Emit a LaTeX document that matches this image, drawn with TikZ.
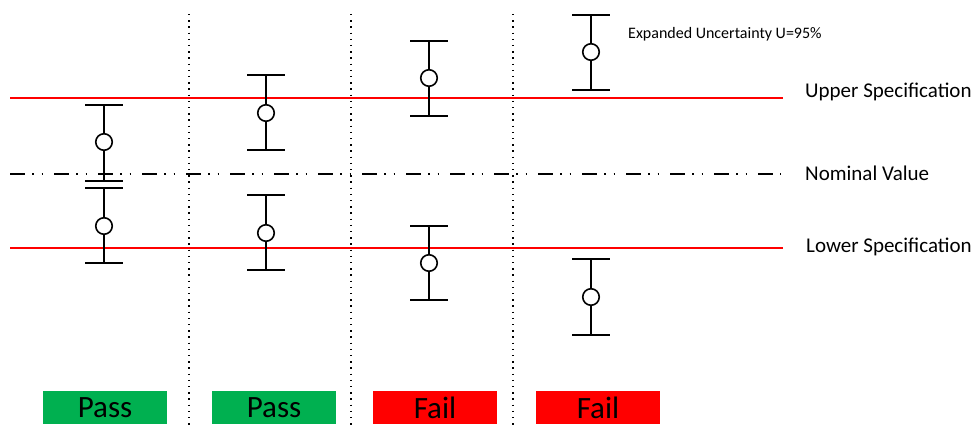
\documentclass[tikz,border=0pt]{standalone}
\usepackage{fontspec}
\setmainfont{Carlito}
\definecolor{passgreen}{RGB}{0,176,80}
\definecolor{failred}{RGB}{255,0,0}
\begin{document}
\begin{tikzpicture}[x=1pt,y=-1pt,
  bar/.style={line width=1.8pt,black},
  dot/.style={circle,draw=black,line width=1.6pt,fill=white,minimum size=16.5pt,inner sep=0pt},
  spec/.style={line width=1.4pt,failred},
  nominal/.style={line width=1.6pt,dash pattern=on 15pt off 7pt on 1.5pt off 8pt on 1.5pt off 11pt},
  divider/.style={line width=1.4pt,dash pattern=on 1.4pt off 4.8pt},
  lbl/.style={font=\fontsize{21}{25}\selectfont,anchor=base west,inner sep=0pt},
  result/.style={minimum width=124pt,minimum height=33pt,inner sep=0pt,font=\fontsize{31}{36}\selectfont,text=black},
]
\useasboundingbox (0,0) rectangle (977,428);

% dotted dividers
\foreach \n/\x in {d1/189,d2/351,d3/513}{
  \coordinate (\n t) at (\x,14);
  \coordinate (\n b) at (\x,428);
  \draw[divider] (\n t) -- (\n b);
}

% specification lines
\coordinate (us1) at (10,98);  \coordinate (us2) at (783,98);
\coordinate (ls1) at (10,248); \coordinate (ls2) at (783,248);
\coordinate (nv1) at (10,174); \coordinate (nv2) at (781,174);
\draw[nominal] (nv1) -- (nv2);
\draw[spec] (us1) -- (us2);
\draw[spec] (ls1) -- (ls2);

% error bars
\foreach \n/\x/\t/\c/\b in {e1/104/105/142/181, e2/104/188/226/263,
                           e3/266/75/113/150,  e4/266/195/233/270,
                           e5/429/41/78/116,   e6/429/226/263/300,
                           e7/591/15/52/90,    e8/591/259/297/335}{
  \coordinate (\n t) at (\x,\t);
  \coordinate (\n b) at (\x,\b);
  \node[dot] (\n) at (\x,\c) {};
  \draw[bar] (\n t) -- (\n);
  \draw[bar] (\n) -- (\n b);
  \draw[bar] ([xshift=-19pt]\n t) -- ([xshift=19pt]\n t);
  \draw[bar] ([xshift=-19pt]\n b) -- ([xshift=19pt]\n b);
}

% labels
\node[lbl,font=\fontsize{16}{19}\selectfont] (eu) at (628,38.5) {Expanded Uncertainty U=95\%};
\node[lbl] (ul) at (805,97) {Upper Specification};
\node[lbl] (nl) at (805,180) {Nominal Value};
\node[lbl] (ll) at (806,252) {Lower Specification};

% results
\node[result,fill=passgreen] (r1) at (105,407.5) {Pass};
\node[result,fill=passgreen] (r2) at (274,407.5) {Pass};
\node[result,fill=failred]   (r3) at (435,407.5) {Fail};
\node[result,fill=failred]   (r4) at (598,407.5) {Fail};
\end{tikzpicture}
\end{document}
